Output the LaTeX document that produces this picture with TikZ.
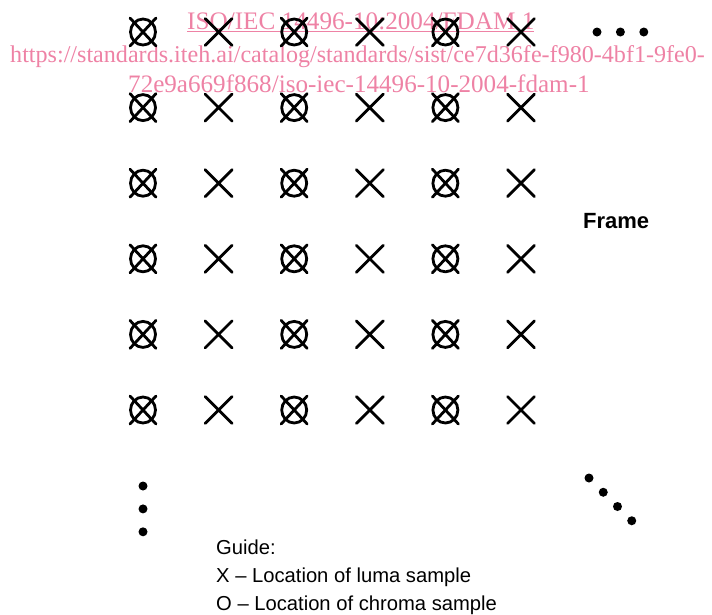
\documentclass[tikz,border=0pt]{standalone}
\usepackage{fontspec}
\setmainfont{Liberation Sans}
\newfontfamily\wmfont{Liberation Serif}
\usetikzlibrary{positioning}
\definecolor{wmpink}{RGB}{238,130,165}

\tikzset{
  sym/.style={line width=2.8pt,line cap=round},
  luma/.pic={\draw[sym] (-13.5,-13.5) -- (13.5,13.5) (-13.5,13.5) -- (13.5,-13.5);},
  chroma/.pic={\draw[sym] (0,0) ellipse [x radius=12.5pt,y radius=13pt];
    \draw[sym] (-13,-14) -- (13,14) (-13,14) -- (13,-14);},
  dot/.style={circle,fill,inner sep=0pt,minimum size=9pt},
  wm/.style={text=wmpink,font=\wmfont,inner sep=0pt,anchor=base west},
  guide/.style={font=\fontsize{20.2}{24}\selectfont,inner sep=0pt,anchor=base west},
}

\begin{document}
\begin{tikzpicture}[x=1pt,y=-1pt]
\useasboundingbox (0,0) rectangle (712,614);

% watermark
\node[wm] (wm1) at (187,29) {\fontsize{25.2}{26}\selectfont\underline{ISO/IEC 14496-10:2004/FDAM 1}};
\node[wm] (wm2) at (10,62) {\fontsize{24.1}{26}\selectfont https://standards.iteh.ai/catalog/standards/sist/ce7d36fe-f980-4bf1-9fe0-};
\node[wm] (wm3) at (128,92) {\fontsize{25.1}{26}\selectfont 72e9a669f868/iso-iec-14496-10-2004-fdam-1};

% sample grid
\foreach \r in {0,...,5} {
  \foreach \c in {0,2,4}
    \pic (c\r\c) at ({143+75.6*\c},{32+75.6*\r}) {chroma};
  \foreach \c in {1,3,5}
    \pic (l\r\c) at ({143+75.6*\c},{32+75.6*\r}) {luma};
}

% continuation dots
\node[dot] (h1) at (597,32) {};
\node[dot,right=14pt of h1] (h2) {};
\node[dot,right=14pt of h2] (h3) {};

\node[dot] (v1) at (143,486) {};
\node[dot,below=13.5pt of v1] (v2) {};
\node[dot,below=13.5pt of v2] (v3) {};

\node[dot] (d1) at (589,478) {};
\node[dot,below right=7.6pt and 7.6pt of d1] (d2) {};
\node[dot,below right=7.6pt and 7.6pt of d2] (d3) {};
\node[dot,below right=7.6pt and 7.6pt of d3] (d4) {};

\node[font=\bfseries\fontsize{22}{24}\selectfont,inner sep=0pt,anchor=base west] (frame) at (583,228) {Frame};

% guide
\node[guide] (guide) at (216,554) {Guide:};
\node[guide] (guidex) at (216,582.5) {X -- Location of luma sample};
\node[guide] (guideo) at (216,610) {O -- Location of chroma sample};
\end{tikzpicture}
\end{document}
